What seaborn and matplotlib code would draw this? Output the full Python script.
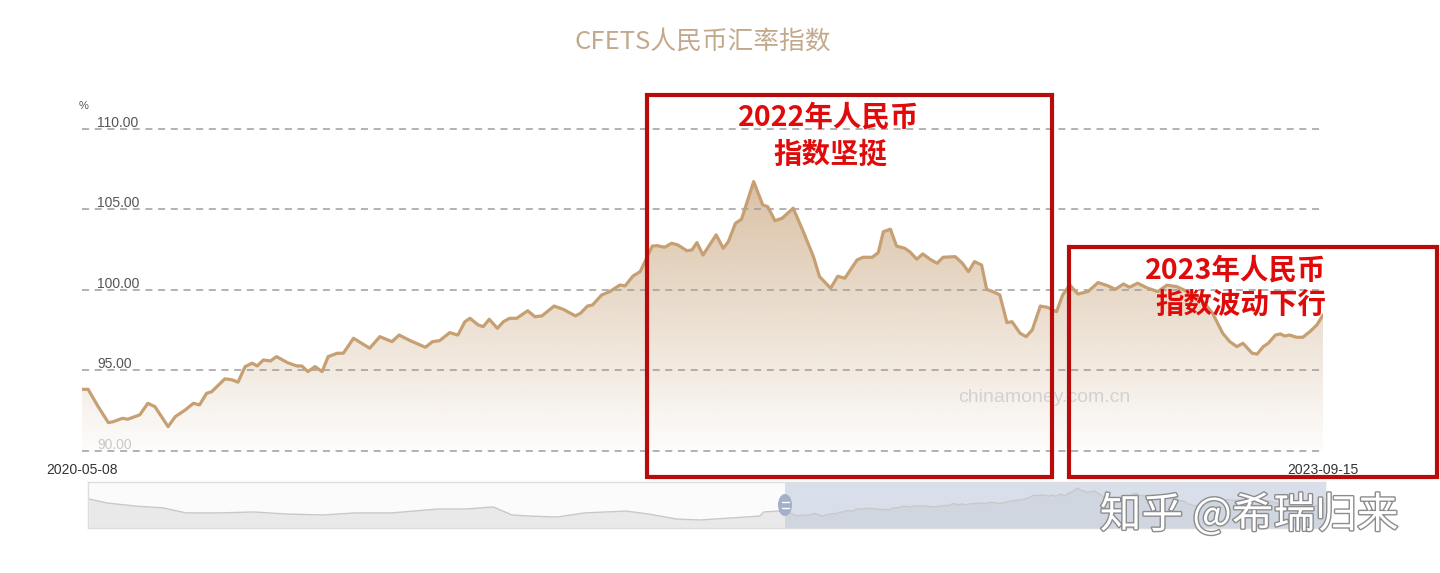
import numpy as np
import pandas as pd
import matplotlib
matplotlib.use('Agg')
import matplotlib.pyplot as plt
import matplotlib.dates as mdates
import matplotlib.patheffects as pe
from matplotlib.patches import Rectangle, Ellipse
from matplotlib.lines import Line2D
import seaborn as sns

# data (weekly index, days counted from 2020-05-08)
start = pd.Timestamp('2020-05-08')
main_days = [0, 6, 16, 26, 31, 40, 45, 57, 65, 72,
             85, 92, 102, 110, 116, 123, 128, 141, 148, 154,
             161, 168, 173, 179, 186, 192, 203, 212, 217, 223,
             230, 237, 243, 252, 258, 268, 276, 284, 294, 306,
             313, 324, 339, 346, 353, 363, 371, 378, 383, 391,
             396, 402, 410, 416, 422, 429, 440, 447, 454, 466,
             475, 487, 492, 499, 504, 513, 521, 531, 536, 544,
             551, 558, 563, 568, 575, 582, 588, 597, 602, 607,
             613, 626, 633, 638, 645, 651, 663, 672, 677, 684,
             691, 702, 712, 722, 728, 739, 746, 753, 765, 771,
             780, 786, 791, 798, 804, 812, 817, 824, 830, 837,
             844, 850, 862, 869, 875, 881, 888, 893, 899, 906,
             913, 918, 926, 932, 938, 946, 953, 962, 968, 975,
             983, 993, 1003, 1013, 1020, 1028, 1034, 1042, 1052, 1062,
             1071, 1081, 1091, 1101, 1109, 1116, 1126, 1133, 1140, 1146,
             1155, 1160, 1166, 1171, 1178, 1183, 1187, 1192, 1199, 1205,
             1212, 1219, 1225]
main_values = [93.83, 93.83, 92.75, 91.76, 91.82, 92.03, 91.97, 92.24, 92.96, 92.75,
               91.51, 92.13, 92.55, 92.96, 92.86, 93.58, 93.68, 94.48, 94.42, 94.27,
               95.24, 95.45, 95.28, 95.65, 95.59, 95.86, 95.48, 95.28, 95.28, 94.93,
               95.24, 94.93, 95.86, 96.07, 96.07, 97.00, 96.69, 96.38, 97.10, 96.79,
               97.20, 96.85, 96.44, 96.79, 96.85, 97.35, 97.20, 98.03, 98.24, 97.83,
               97.72, 98.18, 97.62, 98.03, 98.24, 98.24, 98.71, 98.34, 98.39, 99.00,
               98.80, 98.39, 98.55, 99.00, 99.07, 99.69, 99.90, 100.31, 100.25, 100.87,
               101.14, 102.07, 102.73, 102.75, 102.65, 102.90, 102.80, 102.44, 102.48, 102.94,
               102.17, 103.42, 102.59, 103.00, 104.14, 104.39, 106.73, 105.28, 105.17, 104.30,
               104.45, 105.08, 103.62, 102.07, 100.83, 100.11, 100.85, 100.73, 101.86, 102.03,
               102.03, 102.32, 103.62, 103.77, 102.73, 102.59, 102.38, 101.91, 102.24, 101.91,
               101.66, 102.03, 102.07, 101.66, 101.14, 101.76, 101.55, 100.04, 99.90, 99.69,
               97.97, 98.03, 97.31, 97.10, 97.52, 99.00, 98.92, 98.65, 99.69, 100.31,
               99.75, 99.90, 100.46, 100.25, 100.04, 100.37, 100.17, 100.42, 100.11, 99.90,
               100.30, 100.20, 99.90, 99.60, 99.10, 98.55, 97.31, 96.79, 96.48, 96.69,
               96.07, 96.02, 96.48, 96.69, 97.20, 97.27, 97.14, 97.20, 97.06, 97.06,
               97.41, 97.83, 98.45]

# older history only visible in the zoom slider
hist_days = [-1579, -1537, -1475, -1411, -1359, -1286, -1205, -1130, -1048, -975,
             -892, -787, -724, -662, -619, -578, -517, -454, -361, -309,
             -245, -193, -120, -57, -48, -16]
hist_values = [100.8, 98.6, 97.0, 96.0, 93.3, 93.3, 93.8, 92.7, 92.2, 93.3,
               93.3, 95.4, 95.4, 96.5, 92.2, 91.6, 91.1, 93.3, 94.3, 92.7,
               90.0, 89.5, 90.6, 91.6, 93.8, 94.3]

y_ticks = [90, 95, 100, 105, 110]
y_labels = ['90.00', '95.00', '100.00', '105.00', '110.00']
x_labels = ['2020-05-08', '2023-09-15']
title = 'CFETS人民币汇率指数'
note_2022 = ['2022年人民币', '指数坚挺']
note_2023 = ['2023年人民币', '指数波动下行']

sns.set_theme(style='white')
plt.rcParams['font.family'] = ['Liberation Sans', 'Noto Sans CJK SC', 'DejaVu Sans']
cjk = ['Noto Sans CJK SC', 'DejaVu Sans']

W, H = 1440, 573
def fx(px):
    return px / W
def fy(py):
    return 1 - py / H

df = pd.DataFrame({'date': start + pd.to_timedelta(main_days, unit='D'), 'value': main_values})
hist = pd.DataFrame({'date': start + pd.to_timedelta(hist_days, unit='D'), 'value': hist_values})
full = pd.concat([hist, df], ignore_index=True)

fig = plt.figure(figsize=(14.4, 5.73), dpi=100)
fig.patch.set_facecolor('white')

# main chart
ax = fig.add_axes([fx(82), fy(457.4), fx(1323) - fx(82), (457.4 - 119.3) / H])
ax.set_facecolor('white')

for v in y_ticks:
    ax.axhline(v, color='#9E9E9E', lw=1.1, ls=(0, (4.6, 3.7)), zorder=2)

# gradient area under the line
poly = ax.fill_between(df['date'], df['value'], 90, facecolor='none', edgecolor='none')
ny = 256
rgba = np.zeros((ny, 1, 4))
rgba[:, 0, 0] = 201 / 255
rgba[:, 0, 1] = 165 / 255
rgba[:, 0, 2] = 125 / 255
rgba[:, 0, 3] = np.linspace(0.03, 0.7, ny)
x0 = mdates.date2num(df['date'].iloc[0])
x1 = mdates.date2num(df['date'].iloc[-1])
im = ax.imshow(rgba, extent=[x0, x1, 90, 107], origin='lower', aspect='auto', zorder=1)
im.set_clip_path(poly.get_paths()[0], transform=ax.transData)

sns.lineplot(data=df, x='date', y='value', ax=ax, color='#C6A072', linewidth=2.3, zorder=3)

ax.set_xlim(df['date'].iloc[0], df['date'].iloc[-1])
ax.set_ylim(89.6, 110.6)
ax.set_xlabel('')
ax.set_ylabel('')
ax.set_yticks([])
ax.set_xticks([df['date'].iloc[0], df['date'].iloc[-1]])
ax.set_xticklabels(x_labels)
ax.tick_params(axis='x', length=0, pad=4, labelsize=10, labelcolor='#333333')
sns.despine(ax=ax, left=True, bottom=True)

ytr = ax.get_yaxis_transform()
for v, lab in zip(y_ticks, y_labels):
    col = '#C8C8C8' if v == 90 else '#555555'
    ax.text(0.0121, v + 0.13, lab, transform=ytr, ha='left', va='baseline',
            fontsize=10, color=col, clip_on=False)
ax.text(0.001, 111.24, '%', transform=ytr, ha='center', va='baseline',
        fontsize=8, color='#555555', clip_on=False)

fig.text(fx(703), fy(42), title, ha='center', va='center', fontsize=18.5,
         color='#C3A98B', family=cjk)
fig.text(fx(1044), fy(398), 'chinamoney.com.cn', ha='center', va='center',
         fontsize=14, color='#D2D2D2')

# zoom slider
ax2 = fig.add_axes([fx(88), fy(528), fx(1325) - fx(88), 46 / H])
ax2.set_facecolor('#FBFBFB')
ax2.fill_between(full['date'], full['value'], 85.2, color='#E9E9E9', lw=0)
sns.lineplot(data=full, x='date', y='value', ax=ax2, color='#C8C8C8', linewidth=1)
ax2.axvspan(start, df['date'].iloc[-1], color='#B0BFD6', alpha=0.45, lw=0)
ax2.set_xlim(start + pd.Timedelta(days=-1581), df['date'].iloc[-1])
ax2.set_ylim(85.2, 109.9)
ax2.set_xticks([])
ax2.set_yticks([])
ax2.set_xlabel('')
ax2.set_ylabel('')
for s in ax2.spines.values():
    s.set_color('#DDDDDD')
    s.set_linewidth(1)

fig.add_artist(Ellipse((fx(785), fy(505)), 14 / W, 22 / H, transform=fig.transFigure,
                       facecolor='#A2B0C9', edgecolor='none', zorder=5))
for py in (502, 508):
    fig.add_artist(Line2D([fx(781.5), fx(788.5)], [fy(py), fy(py)], color='white',
                          lw=1, transform=fig.transFigure, zorder=6))

# red highlight boxes
box_col = '#B80C0C'
fig.add_artist(Rectangle((fx(646.5), fy(476.5)), fx(1051.5) - fx(646.5), 382 / H,
                         transform=fig.transFigure, fill=False, edgecolor=box_col,
                         lw=3, zorder=10))
fig.add_artist(Rectangle((fx(1068.5), fy(476.5)), fx(1436.5) - fx(1068.5), 229 / H,
                         transform=fig.transFigure, fill=False, edgecolor=box_col,
                         lw=3, zorder=10))

red = '#E10A0A'
fig.text(fx(829), fy(118), note_2022[0], ha='center', va='center', fontsize=20.5,
         color=red, weight='bold', family=cjk, zorder=11)
fig.text(fx(830), fy(155), note_2022[1], ha='center', va='center', fontsize=20.5,
         color=red, weight='bold', family=cjk, zorder=11)
fig.text(fx(1326), fy(271), note_2023[0], ha='right', va='center', fontsize=20.5,
         color=red, weight='bold', family=cjk, zorder=11)
fig.text(fx(1326), fy(305), note_2023[1], ha='right', va='center', fontsize=20.5,
         color=red, weight='bold', family=cjk, zorder=11)

fig.text(fx(1249), fy(515), '知乎 @希瑞归来', ha='center', va='center', fontsize=30,
         color='white', family=cjk, zorder=12,
         path_effects=[pe.withStroke(linewidth=2, foreground='#8C8C8C')])

fig.savefig('out.png', dpi=100)
